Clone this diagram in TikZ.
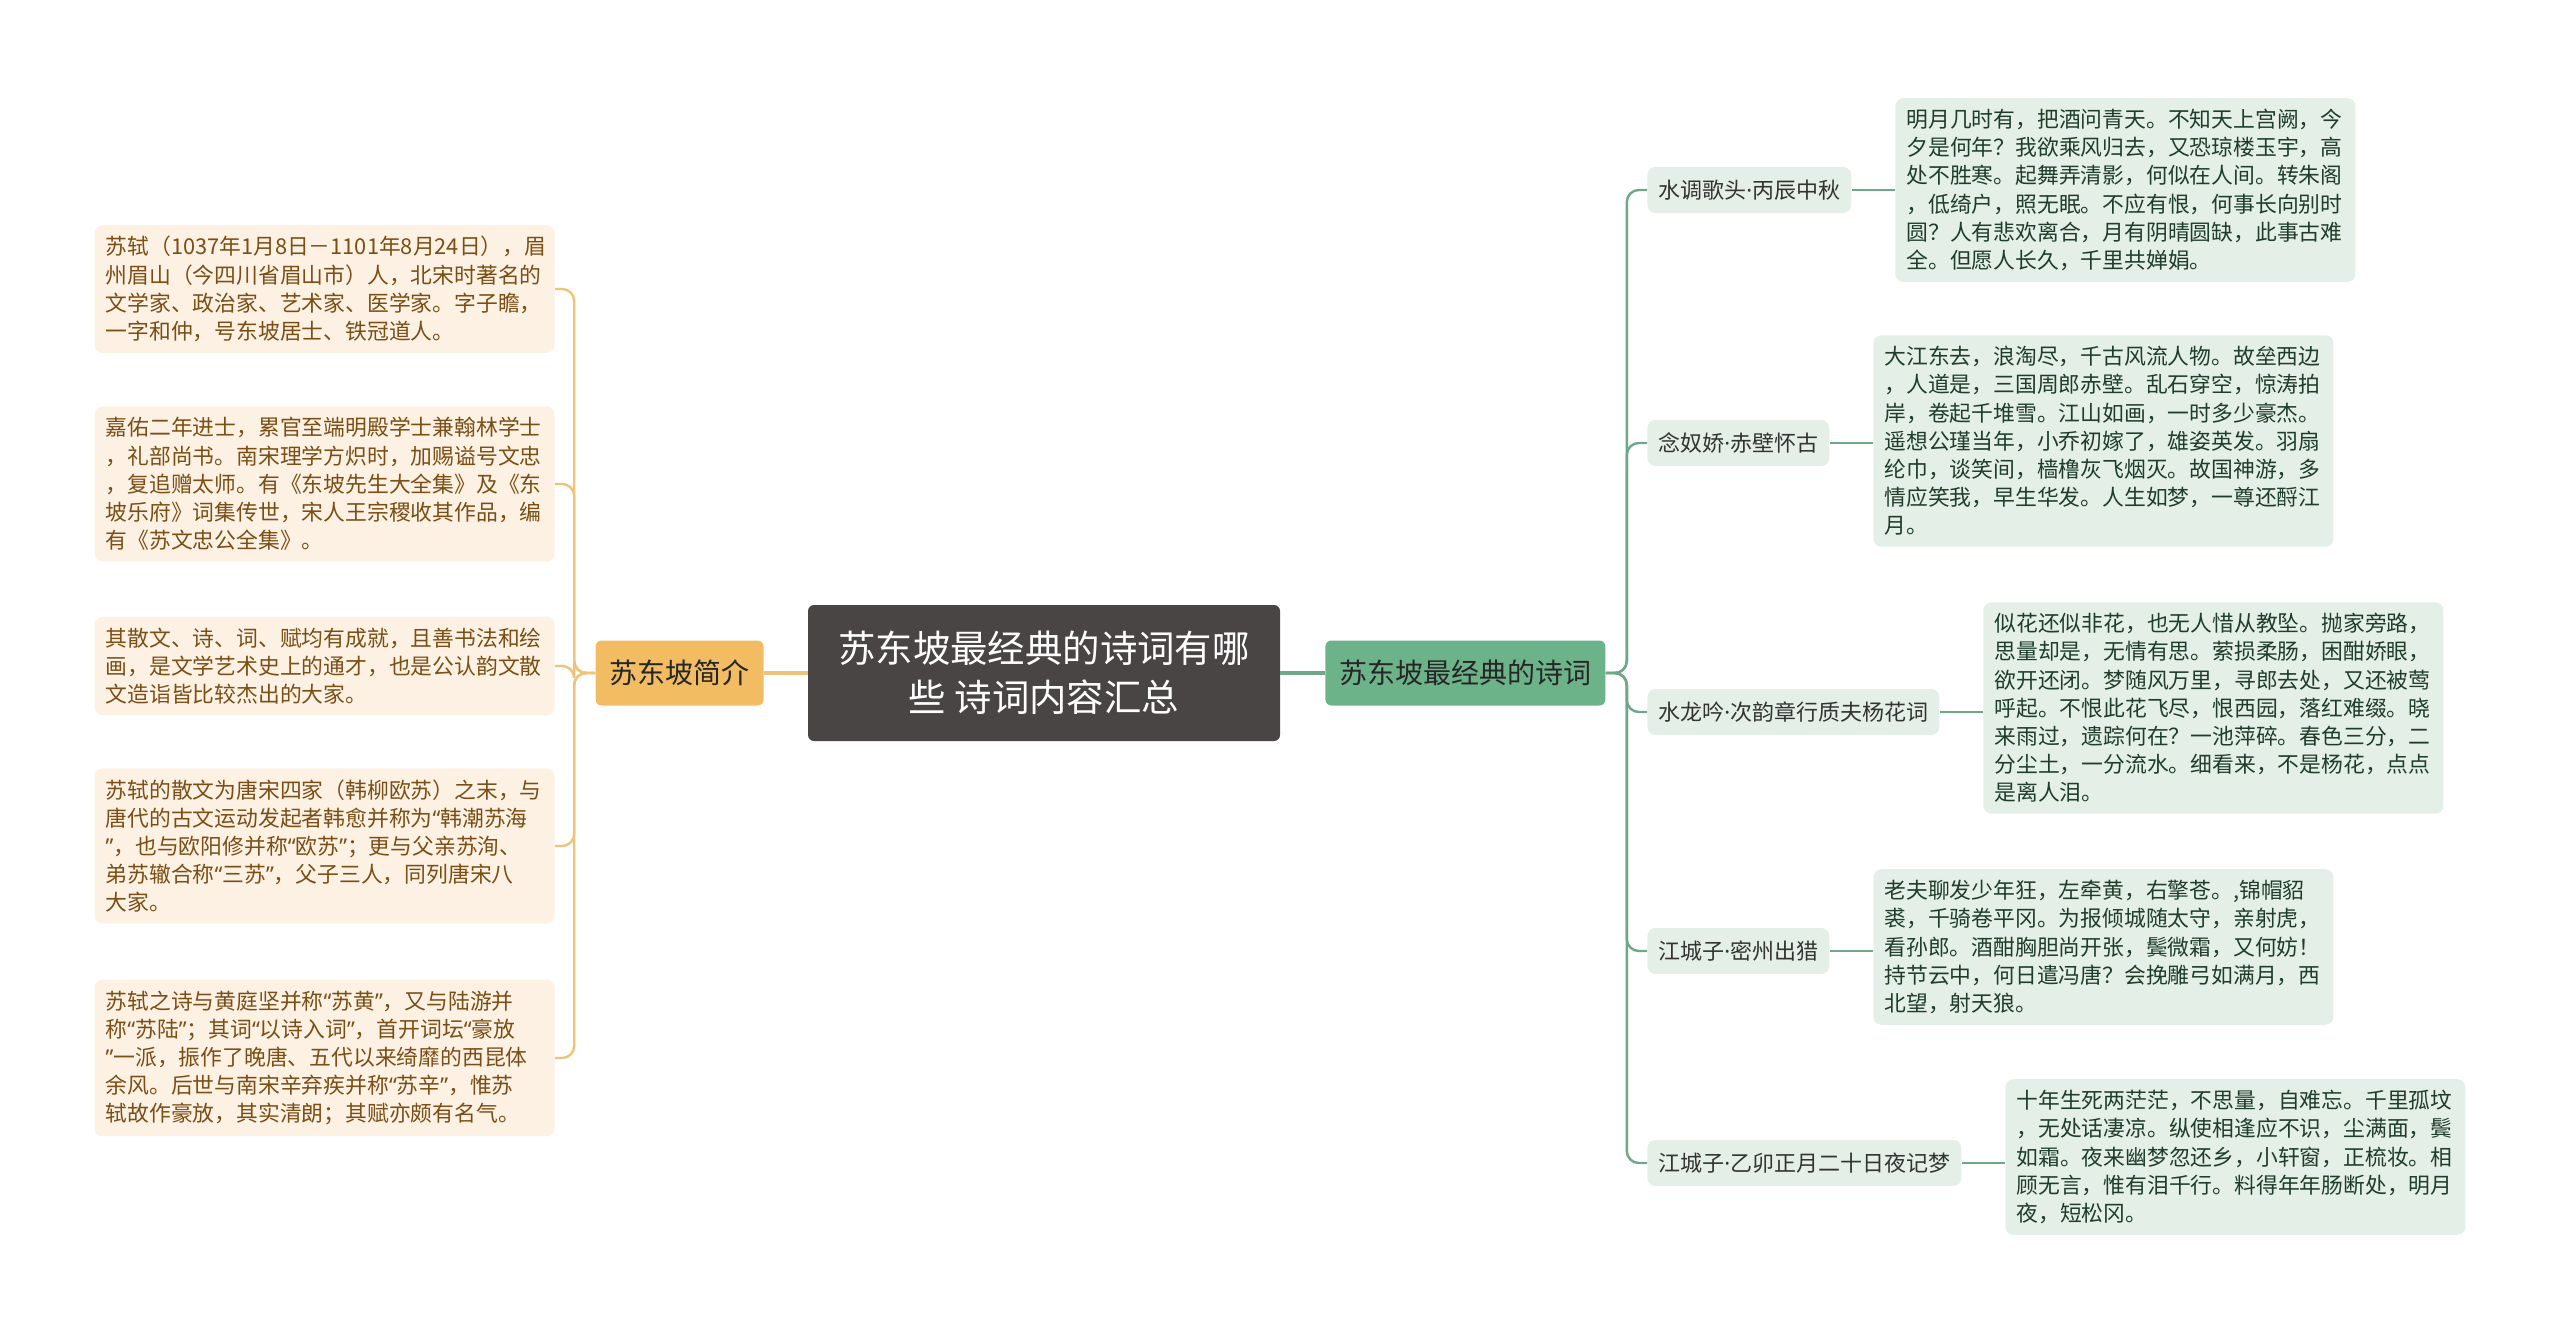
\documentclass[tikz,border=0pt]{standalone}
\usepackage{fontspec}
\setmainfont{Noto Sans CJK SC}
\newfontfamily\latinfont{Noto Sans}
\newcommand{\openq}{{\latinfont “}}
\newcommand{\closeq}{{\latinfont ”}}
\definecolor{rootgray}{HTML}{4A4545}
\definecolor{introorange}{HTML}{F2BC63}
\definecolor{introline}{HTML}{F0C27A}
\definecolor{introleaf}{HTML}{FDF1E4}
\definecolor{introtext}{HTML}{7A4E14}
\definecolor{poemgreen}{HTML}{6DB38A}
\definecolor{poemline}{HTML}{6FA888}
\definecolor{poemleaf}{HTML}{E4EFE7}
\definecolor{poemtext}{HTML}{1F3D2A}
\begin{document}
\begin{tikzpicture}[x=0.5pt,y=-0.5pt,every node/.style={inner sep=0pt},
  rootbox/.style={fill=rootgray,text=white,rounded corners=3pt,minimum width=236pt,minimum height=68pt,align=center,font=\fontsize{18.7pt}{24.5pt}\selectfont},
  branchbox/.style={rounded corners=3pt,minimum height=32.5pt,inner xsep=7pt,text=black!85,font=\fontsize{14pt}{16pt}\selectfont},
  introleafbox/.style={fill=introleaf,text=introtext,rounded corners=4pt,text width=219pt,inner xsep=5.5pt,inner ysep=5.5pt,align=left,font=\fontsize{10.9pt}{14.1pt}\selectfont},
  poemleafbox/.style={introleafbox,fill=poemleaf,text=poemtext},
  titlebox/.style={fill=poemleaf,text=black!80,rounded corners=4pt,minimum height=23pt,inner xsep=5.5pt,font=\fontsize{11pt}{12pt}\selectfont},
  introlink/.style={draw=introline,line width=1.2pt,rounded corners=6pt},
  poemlink/.style={draw=poemline,line width=1.2pt,rounded corners=6pt}]
  \useasboundingbox (0,0) rectangle (2560,1333);
  % centre and branches
  \node[rootbox] (root) at (1044,673) {苏东坡最经典的诗词有哪\\些 诗词内容汇总};
  \node[branchbox,fill=introorange,anchor=east] (intro) at (764,673) {苏东坡简介};
  \node[branchbox,fill=poemgreen,anchor=west] (poems) at (1325,673) {苏东坡最经典的诗词};
  \draw[introlink,line width=2pt] (root.west) -- (intro.east);
  \draw[poemlink,line width=2pt] (root.east) -- (poems.west);
  % intro leaves
  \node[introleafbox,anchor=east] (i1) at (555,289) {苏轼（1037年1月8日－1101年8月24日），眉\\州眉山（今四川省眉山市）人，北宋时著名的\\文学家、政治家、艺术家、医学家。字子瞻，\\一字和仲，号东坡居士、铁冠道人。};
  \node[introleafbox,anchor=east] (i2) at (555,484) {嘉佑二年进士，累官至端明殿学士兼翰林学士\\，礼部尚书。南宋理学方炽时，加赐谥号文忠\\，复追赠太师。有《东坡先生大全集》及《东\\坡乐府》词集传世，宋人王宗稷收其作品，编\\有《苏文忠公全集》。};
  \node[introleafbox,anchor=east] (i3) at (555,666) {其散文、诗、词、赋均有成就，且善书法和绘\\画，是文学艺术史上的通才，也是公认韵文散\\文造诣皆比较杰出的大家。};
  \node[introleafbox,anchor=east] (i4) at (555,846) {苏轼的散文为唐宋四家（韩柳欧苏）之末，与\\唐代的古文运动发起者韩愈并称为\openq 韩潮苏海\\\closeq，也与欧阳修并称\openq 欧苏\closeq；更与父亲苏洵、\\弟苏辙合称\openq 三苏\closeq，父子三人，同列唐宋八\\大家。};
  \node[introleafbox,anchor=east] (i5) at (555,1058) {苏轼之诗与黄庭坚并称\openq 苏黄\closeq，又与陆游并\\称\openq 苏陆\closeq；其词\openq 以诗入词\closeq，首开词坛\openq 豪放\\\closeq 一派，振作了晚唐、五代以来绮靡的西昆体\\余风。后世与南宋辛弃疾并称\openq 苏辛\closeq，惟苏\\轼故作豪放，其实清朗；其赋亦颇有名气。};
  \foreach \k in {1,...,5} \draw[introlink] (intro.west) -- ++(-21,0) |- (i\k.east);
  % poem titles
  \node[titlebox,anchor=west] (t1) at (1647,190) {水调歌头{\latinfont ·}丙辰中秋};
  \node[titlebox,anchor=west] (t2) at (1647,443) {念奴娇{\latinfont ·}赤壁怀古};
  \node[titlebox,anchor=west] (t3) at (1647,712) {水龙吟{\latinfont ·}次韵章行质夫杨花词};
  \node[titlebox,anchor=west] (t4) at (1647,951) {江城子{\latinfont ·}密州出猎};
  \node[titlebox,anchor=west] (t5) at (1647,1163) {江城子{\latinfont ·}乙卯正月二十日夜记梦};
  % poem texts
  \node[poemleafbox,anchor=west] (p1) at (1895,190) {明月几时有，把酒问青天。不知天上宫阙，今\\夕是何年？我欲乘风归去，又恐琼楼玉宇，高\\处不胜寒。起舞弄清影，何似在人间。转朱阁\\，低绮户，照无眠。不应有恨，何事长向别时\\圆？人有悲欢离合，月有阴晴圆缺，此事古难\\全。但愿人长久，千里共婵娟。};
  \node[poemleafbox,anchor=west] (p2) at (1873,441) {大江东去，浪淘尽，千古风流人物。故垒西边\\，人道是，三国周郎赤壁。乱石穿空，惊涛拍\\岸，卷起千堆雪。江山如画，一时多少豪杰。\\遥想公瑾当年，小乔初嫁了，雄姿英发。羽扇\\纶巾，谈笑间，樯橹灰飞烟灭。故国神游，多\\情应笑我，早生华发。人生如梦，一尊还酹江\\月。};
  \node[poemleafbox,anchor=west] (p3) at (1983,708) {似花还似非花，也无人惜从教坠。抛家旁路，\\思量却是，无情有思。萦损柔肠，困酣娇眼，\\欲开还闭。梦随风万里，寻郎去处，又还被莺\\呼起。不恨此花飞尽，恨西园，落红难缀。晓\\来雨过，遗踪何在？一池萍碎。春色三分，二\\分尘土，一分流水。细看来，不是杨花，点点\\是离人泪。};
  \node[poemleafbox,anchor=west] (p4) at (1873,947) {老夫聊发少年狂，左牵黄，右擎苍。,锦帽貂\\裘，千骑卷平冈。为报倾城随太守，亲射虎，\\看孙郎。酒酣胸胆尚开张，鬓微霜，又何妨！\\持节云中，何日遣冯唐？会挽雕弓如满月，西\\北望，射天狼。};
  \node[poemleafbox,anchor=west] (p5) at (2005,1157) {十年生死两茫茫，不思量，自难忘。千里孤坟\\，无处话凄凉。纵使相逢应不识，尘满面，鬓\\如霜。夜来幽梦忽还乡，小轩窗，正梳妆。相\\顾无言，惟有泪千行。料得年年肠断处，明月\\夜，短松冈。};
  \foreach \k in {1,...,5} {
    \draw[poemlink] (poems.east) -- ++(21,0) |- (t\k.west);
    \draw[poemlink] (t\k.east) -- (t\k.east -| p\k.west);
  }
\end{tikzpicture}
\end{document}
